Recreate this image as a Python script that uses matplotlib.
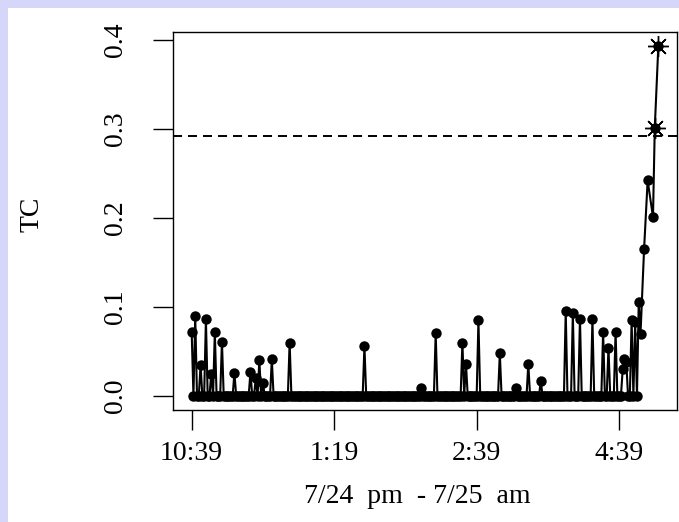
"""
TC readings over the night of 7/24 - 7/25, with the alarm threshold.
Points above the threshold are marked with an asterisk.
"""

import numpy as np
import matplotlib
matplotlib.use('Agg')
import matplotlib.pyplot as plt
from matplotlib.patches import Rectangle

# --- data ---
n_base = 251                      # regularly sampled readings (mostly zero)
spike_idx = [0, 2, 5, 8, 11, 13, 17, 24, 33, 36, 38, 40, 45, 55, 97,
             129, 137, 152, 154, 161, 173, 182, 189, 196, 210, 214, 218,
             225, 231, 234, 238, 242, 243, 244, 247, 249]
spike_val = [0.072, 0.090, 0.035, 0.086, 0.025, 0.072, 0.061, 0.026, 0.027,
             0.020, 0.040, 0.015, 0.041, 0.060, 0.056, 0.009, 0.071, 0.060,
             0.036, 0.085, 0.048, 0.009, 0.036, 0.017, 0.095, 0.093, 0.087,
             0.086, 0.072, 0.054, 0.072, 0.030, 0.042, 0.038, 0.085, 0.083]
# final ramp at the end of the night
tail_idx = [251, 252, 254, 256, 259, 260, 262]
tail_val = [0.106, 0.070, 0.165, 0.242, 0.201, 0.301, 0.393]

threshold = 0.2916
tick_pos = [0, 80, 160, 240]
tick_labels = ['10:39', '1:19', '2:39', '4:39']
y_ticks = [0.0, 0.1, 0.2, 0.3, 0.4]

LAVENDER = '#D6D6FA'
SERIF = ['Liberation Serif', 'DejaVu Serif']

# build the full series
tc = np.zeros(n_base)
tc[spike_idx] = spike_val
x = np.concatenate([np.arange(n_base), tail_idx])
tc = np.concatenate([tc, tail_val])

plt.rcParams['font.family'] = SERIF
plt.rcParams['lines.scale_dashes'] = False
plt.rcParams['path.simplify'] = False

fig = plt.figure(figsize=(6.79, 5.22), dpi=100, facecolor=LAVENDER)
# white panel of the plot image, offset inside the page
fig.patches.append(Rectangle((8 / 679, 0), 1, 1 - 8 / 522, transform=fig.transFigure,
                             facecolor='white', edgecolor='none', zorder=-10))

ax = fig.add_axes([173 / 679, 1 - 410 / 522, 504 / 679, 378 / 522])
ax.set_facecolor('white')

ax.plot(x, tc, color='black', lw=1.5, marker='o', ms=7.5, mew=0, zorder=3)
above = tc > threshold
ax.plot(x[above], tc[above], ls='none', marker=(8, 2, 0), ms=15, mew=1.0,
        color='black', zorder=4)
ax.axhline(threshold, color='black', lw=1.4, dashes=(6.5, 4.3), zorder=2)

# R-style limits (4% padding)
xr = x.max() - x.min()
ax.set_xlim(x.min() - 0.04 * xr, x.max() + 0.04 * xr)
ax.set_ylim(-0.04 * tc.max(), tc.max() * 1.04)

ax.set_xticks(tick_pos)
ax.set_xticklabels(tick_labels)
ax.set_yticks(y_ticks)
ax.set_yticklabels([f'{v:.1f}' for v in y_ticks], rotation=90, va='center')
ax.tick_params(axis='both', direction='out', length=14.5, width=1.0,
               labelsize=20, colors='black')
ax.tick_params(axis='x', pad=7.5)
ax.tick_params(axis='y', pad=18)
for s in ax.spines.values():
    s.set_linewidth(1.0)

ax.set_xlabel('7/24  pm  - 7/25  am', fontsize=20, va='center')
ax.xaxis.set_label_coords(0.484, -0.228)
ax.set_ylabel('TC', fontsize=20, va='center')
ax.yaxis.set_label_coords(-0.28, 0.518)

fig.savefig('out.png', dpi=100, facecolor=LAVENDER)
